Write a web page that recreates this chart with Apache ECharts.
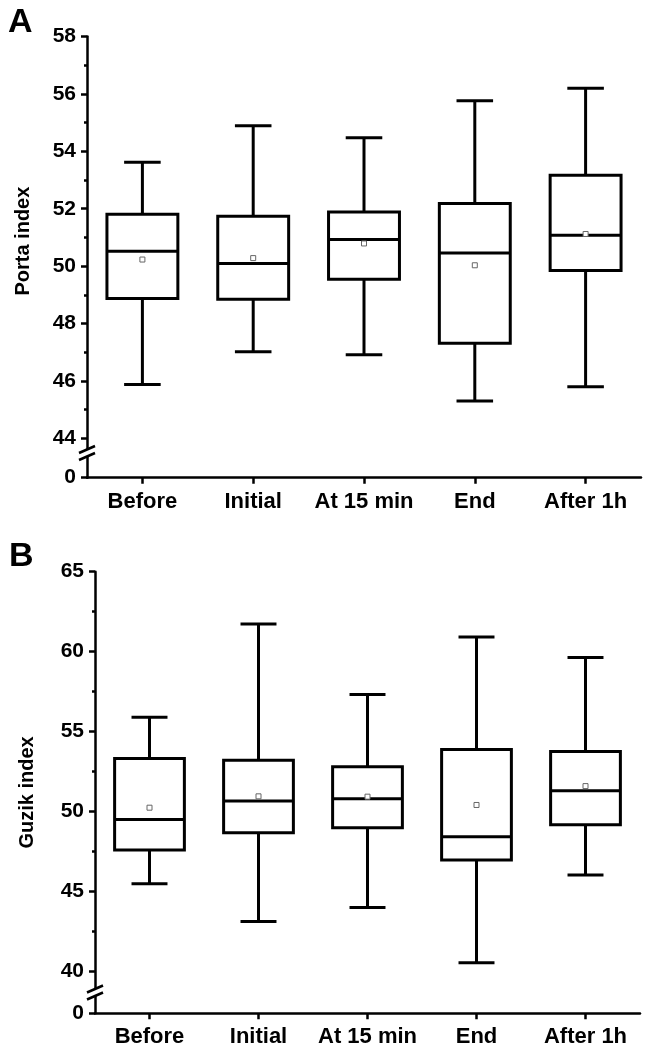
<!DOCTYPE html>
<html><head><meta charset="utf-8">
<script src="https://cdn.jsdelivr.net/npm/echarts@6/dist/echarts.min.js"></script>
<style>html,body{margin:0;padding:0;background:#fff}#c{width:646px;height:1053px}</style>
</head><body><div id="c"></div>
<script>
const categories = ['Before', 'Initial', 'At 15 min', 'End', 'After 1h'];
// each row: [lower whisker, Q1, median, Q3, upper whisker]
const portaBox = [
  [45.88, 48.87, 50.52, 51.81, 53.62],
  [47.02, 48.85, 50.09, 51.74, 54.89],
  [46.91, 49.54, 50.93, 51.89, 54.47],
  [45.30, 47.31, 50.46, 52.18, 55.76],
  [45.80, 49.85, 51.08, 53.17, 56.20]
];
const portaMean = [50.23, 50.28, 50.79, 50.03, 51.12];
const guzikBox = [
  [45.50, 47.60, 49.52, 53.33, 55.90],
  [43.13, 48.69, 50.67, 53.21, 61.73],
  [44.02, 49.00, 50.81, 52.81, 57.33],
  [40.56, 46.98, 48.44, 53.88, 60.92],
  [46.04, 49.19, 51.31, 53.77, 59.63]
];
const guzikMean = [50.25, 50.96, 50.94, 50.42, 51.60];
const portaTicks = [44, 46, 48, 50, 52, 54, 56, 58];
const portaMinor = [45, 47, 49, 51, 53, 55, 57];
const guzikTicks = [40, 45, 50, 55, 60, 65];
const guzikMinor = [42.5, 47.5, 52.5, 57.5, 62.5];
const portaBase = 42.63, portaTop = 58, portaBreak = 43.49;
const guzikBase = 37.4, guzikTop = 65, guzikBreak = 38.7;

const FONT = '"Liberation Sans", Arial, sans-serif';
const chart = echarts.init(document.getElementById('c'), null, {renderer: 'canvas'});

function boxSeries(xi, yi, boxes, means) {
  return {
    type: 'custom', xAxisIndex: xi, yAxisIndex: yi, clip: false,
    data: boxes.map((b, i) => [i, b[0], b[1], b[2], b[3], b[4], means[i]]),
    encode: {x: 0, y: [1, 2, 3, 4, 5, 6]},
    renderItem: function (params, api) {
      const i = api.value(0);
      const band = api.size([1, 0])[0];
      const bw = band * 0.32, cw = band * 0.165;
      const p = k => api.coord([i, api.value(k)]);
      const lo = p(1), q1 = p(2), md = p(3), q3 = p(4), hi = p(5), mn = p(6);
      const x = lo[0];
      const ls = {stroke: '#000', lineWidth: 3, fill: null};
      return {type: 'group', children: [
        {type: 'line', shape: {x1: x, y1: hi[1], x2: x, y2: q3[1]}, style: ls},
        {type: 'line', shape: {x1: x, y1: q1[1], x2: x, y2: lo[1]}, style: ls},
        {type: 'line', shape: {x1: x - cw, y1: hi[1], x2: x + cw, y2: hi[1]}, style: ls},
        {type: 'line', shape: {x1: x - cw, y1: lo[1], x2: x + cw, y2: lo[1]}, style: ls},
        {type: 'rect', shape: {x: x - bw, y: q3[1], width: 2 * bw, height: q1[1] - q3[1]}, style: {stroke: '#000', lineWidth: 3, fill: 'rgba(0,0,0,0)'}},
        {type: 'line', shape: {x1: x - bw, y1: md[1], x2: x + bw, y2: md[1]}, style: ls},
        {type: 'rect', shape: {x: mn[0] - 2.5, y: mn[1] - 2.5, width: 5, height: 5}, style: {stroke: '#666', lineWidth: 1, fill: '#fff'}}
      ]};
    }
  };
}

function mainY(gi, name, base, top, ticks, gap, pad) {
  const vals = [base].concat(ticks);
  return {
    gridIndex: gi, type: 'value', min: base, max: top,
    name: name, nameLocation: 'middle', nameGap: gap,
    nameTextStyle: {color: '#000', fontFamily: FONT, fontWeight: 'bold', fontSize: 20, padding: pad},
    axisLine: {show: true, lineStyle: {color: '#000', width: 2.5}},
    axisTick: {show: true, inside: false, length: 6, lineStyle: {color: '#000', width: 2.5}, customValues: vals},
    axisLabel: {show: true, color: '#000', fontFamily: FONT, fontWeight: 'bold', fontSize: 21, margin: 11,
      customValues: vals, formatter: v => (v === base ? '0' : String(v))},
    splitLine: {show: false}
  };
}
function minorY(gi, base, top, minor) {
  return {
    gridIndex: gi, type: 'value', min: base, max: top, position: 'left', offset: 0,
    axisLine: {show: false},
    axisTick: {show: true, inside: false, length: 3, lineStyle: {color: '#000', width: 2.5}, customValues: minor},
    axisLabel: {show: false}, splitLine: {show: false}
  };
}
function catX(gi) {
  return {
    gridIndex: gi, type: 'category', data: categories, boundaryGap: true,
    axisLine: {show: true, onZero: false, lineStyle: {color: '#000', width: 2.5}},
    axisTick: {show: true, alignWithLabel: true, length: 6, lineStyle: {color: '#000', width: 2.5}},
    axisLabel: {color: '#000', fontFamily: FONT, fontWeight: 'bold', fontSize: 22, margin: 13, interval: 0, hideOverlap: false},
    splitLine: {show: false}
  };
}

const option = {
  animation: false,
  backgroundColor: '#fff',
  title: [
    {text: 'A', left: 3, top: 1, textStyle: {color: '#000', fontFamily: FONT, fontWeight: 'bold', fontSize: 34}},
    {text: 'B', left: 4, top: 535, textStyle: {color: '#000', fontFamily: FONT, fontWeight: 'bold', fontSize: 34}}
  ],
  grid: [
    {left: 87, right: 5, top: 36.5, height: 441.2, containLabel: false, outerBoundsMode: 'none'},
    {left: 95, right: 6, top: 571.7, height: 441.6, containLabel: false, outerBoundsMode: 'none'}
  ],
  xAxis: [catX(0), catX(1)],
  yAxis: [
    mainY(0, 'Porta index', portaBase, portaTop, portaTicks, 54, [0, 0, 0, 32]),
    minorY(0, portaBase, portaTop, portaMinor),
    mainY(1, 'Guzik index', guzikBase, guzikTop, guzikTicks, 58, [0, 0, 0, 0]),
    minorY(1, guzikBase, guzikTop, guzikMinor)
  ],
  series: [
    boxSeries(0, 0, portaBox, portaMean),
    boxSeries(1, 2, guzikBox, guzikMean)
  ]
};
chart.setOption(option);

function breakMark(axisX, y) {
  const w = 8, rise = 3.5, sep = 3.5;
  const lineStyle = {stroke: '#000', lineWidth: 2.5};
  return [
    {type: 'polygon', shape: {points: [[axisX - 3, y + sep + rise * 3 / w], [axisX + 3, y + sep - rise * 3 / w], [axisX + 3, y - sep - rise * 3 / w], [axisX - 3, y - sep + rise * 3 / w]]}, style: {fill: '#fff'}, z: 100},
    {type: 'line', shape: {x1: axisX - w, y1: y + sep + rise, x2: axisX + w, y2: y + sep - rise}, style: lineStyle, z: 101},
    {type: 'line', shape: {x1: axisX - w, y1: y - sep + rise, x2: axisX + w, y2: y - sep - rise}, style: lineStyle, z: 101}
  ];
}
const yb1 = chart.convertToPixel({yAxisIndex: 0}, portaBreak);
const yb2 = chart.convertToPixel({yAxisIndex: 2}, guzikBreak);
chart.setOption({graphic: breakMark(87, yb1).concat(breakMark(95, yb2))});
</script></body></html>
